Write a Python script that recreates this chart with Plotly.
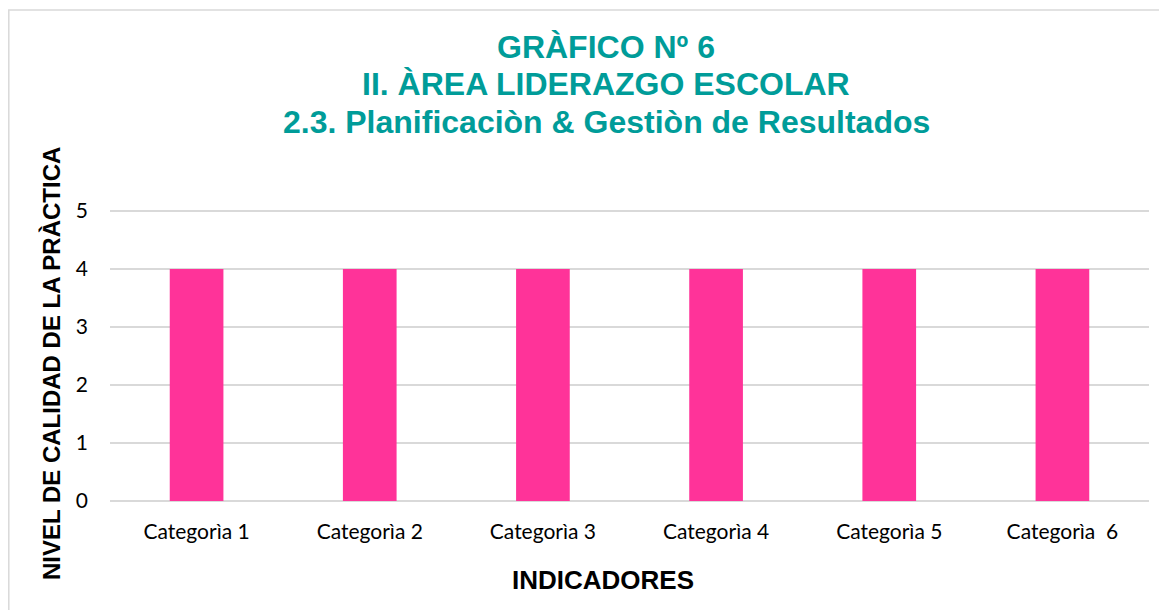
import plotly.graph_objects as go

categories = ["Categorìa 1", "Categorìa 2", "Categorìa 3", "Categorìa 4", "Categorìa 5", "Categorìa  6"]
values = [4, 4, 4, 4, 4, 4]
y_ticks = [0, 1, 2, 3, 4, 5]
title_lines = ["GRÀFICO Nº 6", "II. ÀREA LIDERAZGO ESCOLAR", "2.3. Planificaciòn & Gestiòn de Resultados"]
x_title = "INDICADORES"
y_title = "NIVEL DE CALIDAD DE LA PRÀCTICA"

OFF = 8  # page body margin
W, H = 1167 - OFF, 610 - OFF
y_top = 5.05
unit = (501 - 211) / 5.0
plot_left, plot_right, plot_bottom = 110, 1149, 501  # screen coords
plot_top = 501 - y_top * unit
L = plot_left - OFF
T = int(round(plot_top - OFF))
R = W - (plot_right - OFF)
B = H - (plot_bottom - OFF)
pw, ph = W - L - R, H - T - B

def px(x):
    return (x - OFF - L) / pw

def py(y):
    return (H - B - (y - OFF)) / ph

fig = go.Figure(go.Bar(x=categories, y=values, marker=dict(color="#FF3399", line=dict(width=0)),
                       width=0.31, hoverinfo="x+y"))

teal = "#009C99"
annotations = []
title_y = [47, 84, 122]
for line, yc in zip(title_lines, title_y):
    annotations.append(dict(text="<b>%s</b>" % line, x=px(606), y=py(yc), xref="paper", yref="paper",
                            xanchor="center", yanchor="middle", showarrow=False,
                            font=dict(family="Liberation Sans, Arial", size=32, color=teal)))
annotations.append(dict(text="<b>%s</b>" % x_title, x=px(603), y=py(580), xref="paper", yref="paper",
                        xanchor="center", yanchor="middle", showarrow=False,
                        font=dict(family="Liberation Sans, Arial", size=26, color="#000000")))
annotations.append(dict(text="<b>%s</b>" % y_title, x=px(51), y=py(364), xref="paper", yref="paper",
                        xanchor="center", yanchor="middle", showarrow=False, textangle=-90,
                        font=dict(family="Liberation Sans, Arial", size=24, color="#000000")))

fig.update_layout(
    width=W, height=H,
    margin=dict(l=L, r=R, t=T, b=B, autoexpand=False),
    paper_bgcolor="white", plot_bgcolor="white",
    showlegend=False,
    annotations=annotations,
    shapes=[dict(type="rect", xref="paper", yref="paper", x0=px(8.8), x1=px(1190), y0=py(640), y1=py(10),
                 line=dict(color="#D9D9D9", width=1.5), fillcolor="rgba(0,0,0,0)", layer="below")],
    xaxis=dict(showgrid=False, showline=False, zeroline=False, ticks="", ticklabelstandoff=16,
               tickfont=dict(family="Lato, Carlito, Calibri", size=21, color="#000000")),
    yaxis=dict(range=[0, y_top], tickvals=y_ticks, showgrid=True, gridcolor="#D9D9D9", gridwidth=1.5,
               zeroline=True, zerolinecolor="#D9D9D9", zerolinewidth=1.5, showline=False, ticks="",
               ticklabelstandoff=21,
               tickfont=dict(family="Lato, Carlito, Calibri", size=21, color="#000000")),
)

fig.write_html("out.html")
